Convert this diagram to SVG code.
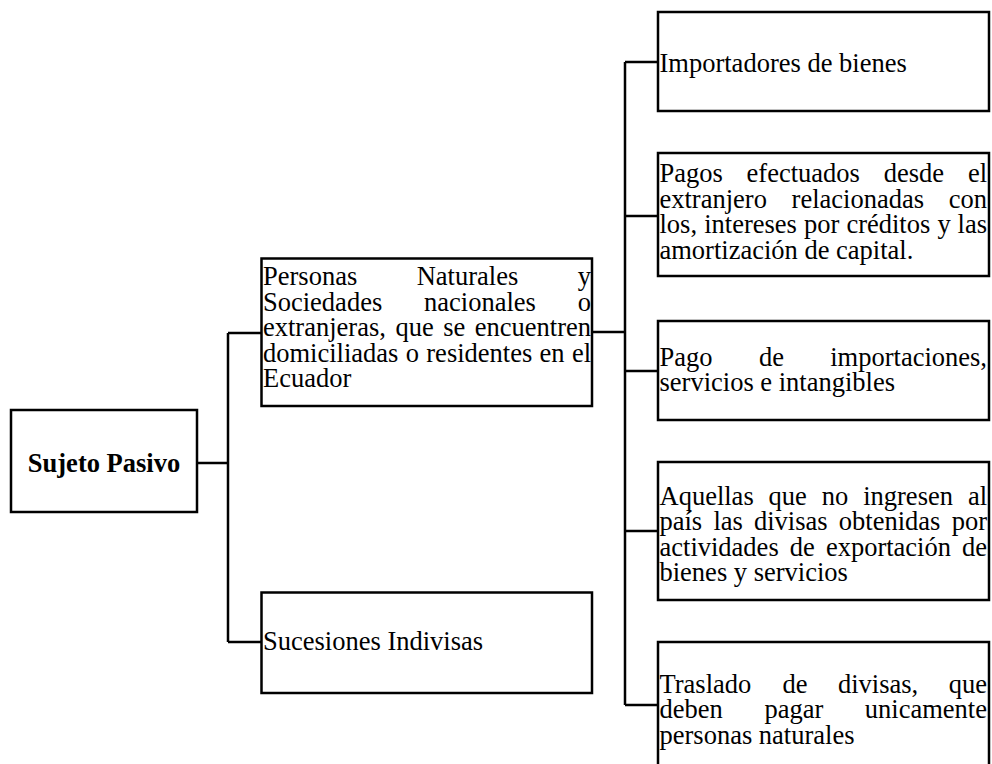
<svg xmlns="http://www.w3.org/2000/svg" width="992" height="764" viewBox="0 0 992 764">
<style>
.box{fill:#fff;stroke:#000;stroke-width:2.5}
.c{fill:none;stroke:#000;stroke-width:2.5}
text{font-family:"Liberation Serif","Times New Roman",serif;font-size:26.5px;fill:#000}
.b{font-weight:bold}
.e{text-anchor:end}
</style>
<rect width="992" height="764" fill="#fff"/>
<g id="connectors">
<path class="c" d="M197 463H228M228 333V642M228 333H261.5M228 642H261.5"/>
<path class="c" d="M592 332H625M625 62V705M625 62H658M625 216H658M625 371H658M625 531H658M625 705H658"/>
</g>
<g id="sujeto">
<rect class="box" x="11" y="410" width="186" height="102"/>
<text class="b" x="104" y="472" text-anchor="middle">Sujeto Pasivo</text>
</g>
<g id="personas">
<rect class="box" x="261.5" y="258.5" width="330.5" height="147.5"/>
<text y="285"><tspan x="263">Personas</tspan><tspan x="416.7">Naturales</tspan><tspan x="591" class="e" text-anchor="end">y</tspan></text>
<text y="310.5"><tspan x="263">Sociedades</tspan><tspan x="424">nacionales</tspan><tspan x="591" text-anchor="end">o</tspan></text>
<text y="336"><tspan x="263">extranjeras,</tspan><tspan x="395.4">que</tspan><tspan x="443.2">se</tspan><tspan x="591" text-anchor="end">encuentren</tspan></text>
<text y="361.5"><tspan x="263">domiciliadas</tspan><tspan x="405.7">o</tspan><tspan x="426.3">residentes</tspan><tspan x="539.6">en</tspan><tspan x="591" text-anchor="end">el</tspan></text>
<text x="263" y="387">Ecuador</text>
</g>
<g id="sucesiones">
<rect class="box" x="261.5" y="592.5" width="330.5" height="100.5"/>
<text x="263" y="650">Sucesiones Indivisas</text>
</g>
<g id="importadores">
<rect class="box" x="658" y="12" width="331" height="99"/>
<text x="659.5" y="71.5">Importadores de bienes</text>
</g>
<g id="pagos">
<rect class="box" x="658" y="153" width="331" height="123"/>
<text y="182"><tspan x="659.5">Pagos</tspan><tspan x="746.6">efectuados</tspan><tspan x="883.7">desde</tspan><tspan x="987" text-anchor="end">el</tspan></text>
<text y="207.5"><tspan x="659.5">extranjero</tspan><tspan x="791.6">relacionadas</tspan><tspan x="987" text-anchor="end">con</tspan></text>
<text y="233"><tspan x="659.5">los,</tspan><tspan x="704.2">intereses</tspan><tspan x="804">por</tspan><tspan x="846.4">créditos</tspan><tspan x="937.4">y</tspan><tspan x="987" text-anchor="end">las</tspan></text>
<text x="659.5" y="258.5">amortización de capital.</text>
</g>
<g id="pago-importaciones">
<rect class="box" x="658" y="321" width="331" height="99"/>
<text y="365.5"><tspan x="659.5">Pago</tspan><tspan x="758.9">de</tspan><tspan x="987" text-anchor="end">importaciones,</tspan></text>
<text x="659.5" y="391">servicios e intangibles</text>
</g>
<g id="aquellas">
<rect class="box" x="658" y="462" width="331" height="138"/>
<text y="505"><tspan x="659.5">Aquellas</tspan><tspan x="768.6">que</tspan><tspan x="821.8">no</tspan><tspan x="863.2">ingresen</tspan><tspan x="987" text-anchor="end">al</tspan></text>
<text y="530.3"><tspan x="659.5">país</tspan><tspan x="713.4">las</tspan><tspan x="754">divisas</tspan><tspan x="838.8">obtenidas</tspan><tspan x="987" text-anchor="end">por</tspan></text>
<text y="555.6"><tspan x="659.5">actividades</tspan><tspan x="789.8">de</tspan><tspan x="825.9">exportación</tspan><tspan x="987" text-anchor="end">de</tspan></text>
<text x="659.5" y="581">bienes y servicios</text>
</g>
<g id="traslado">
<rect class="box" x="658" y="642" width="331" height="140"/>
<text y="692.5"><tspan x="659.5">Traslado</tspan><tspan x="782.6">de</tspan><tspan x="838">divisas,</tspan><tspan x="987" text-anchor="end">que</tspan></text>
<text y="718"><tspan x="659.5">deben</tspan><tspan x="764.4">pagar</tspan><tspan x="987" text-anchor="end">unicamente</tspan></text>
<text x="659.5" y="743.5">personas naturales</text>
</g>
</svg>
